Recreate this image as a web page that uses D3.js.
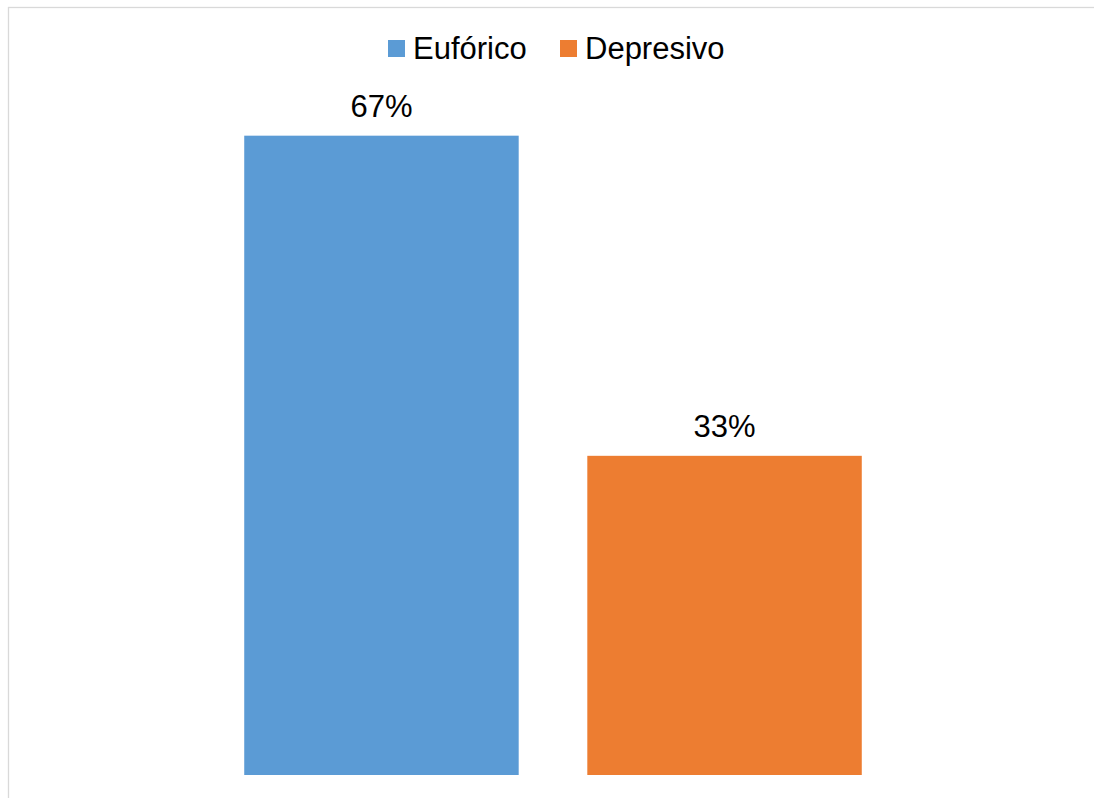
<!DOCTYPE html>
<html>
<head>
<meta charset="utf-8">
<script src="https://cdn.jsdelivr.net/npm/d3@7"></script>
<style>
  body { margin: 0; background: #fff; }
</style>
</head>
<body>
<svg id="chart"></svg>
<script>
const categories = ["Eufórico", "Depresivo"];
const values = [66.7, 33.3];
const labels = ["67%", "33%"];
const colors = ["#5B9BD5", "#ED7D31"];

const width = 1094;
const height = 798;

let svg = d3.select("#chart")
  .attr("width", width)
  .attr("height", height)
  .style("display", "block");

// chart area border
svg.append("rect")
  .attr("x", 8.5)
  .attr("y", 7.5)
  .attr("width", 1090)
  .attr("height", 800)
  .style("fill", "#fff")
  .style("stroke", "#D9D9D9")
  .style("stroke-width", 1.3);

let xScale = d3.scaleBand()
  .domain(categories)
  .range([107, 999])
  .paddingInner(0.2)
  .paddingOuter(0.4);

let yScale = d3.scaleLinear()
  .domain([0, 70])
  .range([775, 775 - 70 * 9.585]);

svg.selectAll("rect.bar")
  .data(categories)
  .enter().append("rect")
  .attr("class", "bar")
  .attr("x", (d) => xScale(d))
  .attr("y", (d, i) => yScale(values[i]))
  .attr("width", xScale.bandwidth())
  .attr("height", (d, i) => yScale(0) - yScale(values[i]))
  .style("fill", (d, i) => colors[i]);

svg.selectAll("text.value")
  .data(categories)
  .enter().append("text")
  .attr("class", "value")
  .attr("x", (d) => xScale(d) + xScale.bandwidth() / 2)
  .attr("y", (d, i) => yScale(values[i]) - 19)
  .attr("text-anchor", "middle")
  .style("font-family", "Liberation Sans, Arial, sans-serif")
  .style("font-size", "31px")
  .style("fill", "#000")
  .text((d, i) => labels[i]);

// legend
const legendX = [388, 560];
let legend = svg.selectAll("g.legend")
  .data(categories)
  .enter().append("g")
  .attr("class", "legend")
  .attr("transform", (d, i) => "translate(" + legendX[i] + ",40)");

legend.append("rect")
  .attr("width", 17)
  .attr("height", 17)
  .style("fill", (d, i) => colors[i]);

legend.append("text")
  .attr("x", 25)
  .attr("y", 18.5)
  .style("font-family", "Liberation Sans, Arial, sans-serif")
  .style("font-size", "31px")
  .style("fill", "#000")
  .text((d) => d);
</script>
</body>
</html>
